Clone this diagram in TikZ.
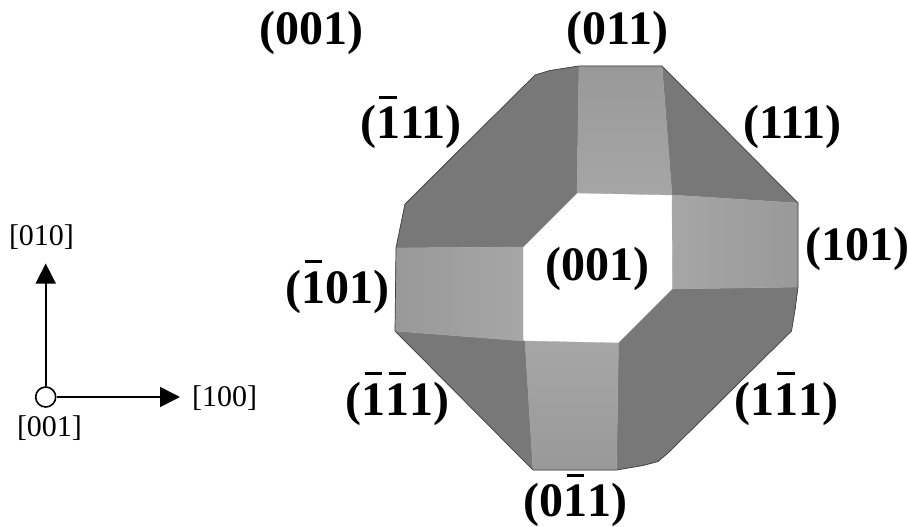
\documentclass[tikz,border=0pt]{standalone}
\usepackage{fontspec}
\setmainfont{Liberation Serif}
\usetikzlibrary{arrows.meta}
\newcommand{\ovl}[1]{\ooalign{#1\cr\hidewidth\rule[0.83em]{0.37em}{0.06em}\hidewidth\cr}}
\definecolor{darkface}{HTML}{787878}
\definecolor{lightin}{HTML}{A6A6A6}
\definecolor{lightout}{HTML}{999999}
\tikzset{
  dface/.style={fill=darkface,draw=darkface,line width=0.3pt},
  lface/.style={draw=lightin,line width=0.3pt},
  rim/.style={draw=black!75,line width=0.7pt,line join=round},
  miller/.style={font=\fontsize{48}{48}\selectfont\bfseries,anchor=base,inner sep=0pt},
  axislabel/.style={font=\fontsize{30}{30}\selectfont,anchor=base,inner sep=0pt},
  axisline/.style={line width=1.6pt,-{Triangle[length=20pt,width=20pt]}},
  origin/.style={circle,draw=black,line width=1.6pt,fill=white,minimum size=20pt,inner sep=0pt}
}
\begin{document}
\begin{tikzpicture}[x=1pt,y=-1pt]
\useasboundingbox (0,0) rectangle (908,527);
% dark faces
\path[dface] (579,66) -- (550,70.5) -- (535,75) -- (527,83) -- (405,204) -- (396,248) -- (523,247) -- (577,193) -- cycle;
\path[dface] (662,66) -- (798,203) -- (672,195) -- cycle;
\path[dface] (395,331) -- (533,470) -- (525,341) -- cycle;
\path[dface] (618.5,343) -- (672.5,289) -- (798,287) -- (795,310) -- (791.5,331) -- (668,453) -- (658,461.5) -- (643,465.5) -- (616.5,470) -- cycle;
% light faces
\path[lface,top color=lightout,bottom color=lightin] (579,66) -- (662,66) -- (672,195) -- (577,193) -- cycle;
\path[lface,left color=lightin,right color=lightout] (672,195) -- (798,203) -- (798,287) -- (672.5,289) -- cycle;
\path[lface,left color=lightout,right color=lightin] (396,248) -- (523,247) -- (523,341) -- (395,331) -- cycle;
\path[lface,top color=lightin,bottom color=lightout] (525,341) -- (618.5,343) -- (616.5,470) -- (533,470) -- cycle;
% outer rim
\draw[rim] (579,66) -- (662,66) -- (798,203) -- (798,287) -- (795,310) -- (791.5,331) -- (668,453) -- (658,461.5) -- (643,465.5) -- (616.5,470) -- (533,470) -- (395,331) -- (396,248) -- (405,204) -- (527,83) -- (535,75) -- (550,70.5) -- cycle;
% labels
\node[miller] (a) at (311,45) {(001)};
\node[miller] (b) at (617.5,45) {(011)};
\node[miller] (c) at (411,138.5) {(\ovl{1}11)};
\node[miller] (d) at (792.5,139) {(111)};
\node[miller] (e) at (857,260) {(101)};
\node[miller] (f) at (597.5,280) {(001)};
\node[miller] (g) at (337.5,303) {(\ovl{1}01)};
\node[miller] (h) at (397.5,415) {(\ovl{1}\ovl{1}1)};
\node[miller] (i) at (786,415) {(1\ovl{1}1)};
\node[miller] (j) at (575.5,516.5) {(0\ovl{1}1)};
% axes
\node[origin] (o) at (45.7,397) {};
\coordinate (ty) at (45.7,263.5);
\coordinate (tx) at (180,397);
\draw[axisline] (o) -- (ty);
\draw[axisline] (o) -- (tx);
\node[axislabel] (ly) at (41.5,245) {[010]};
\node[axislabel] (lx) at (224.5,406) {[100]};
\node[axislabel] (lz) at (49.5,436) {[001]};
\end{tikzpicture}
\end{document}
